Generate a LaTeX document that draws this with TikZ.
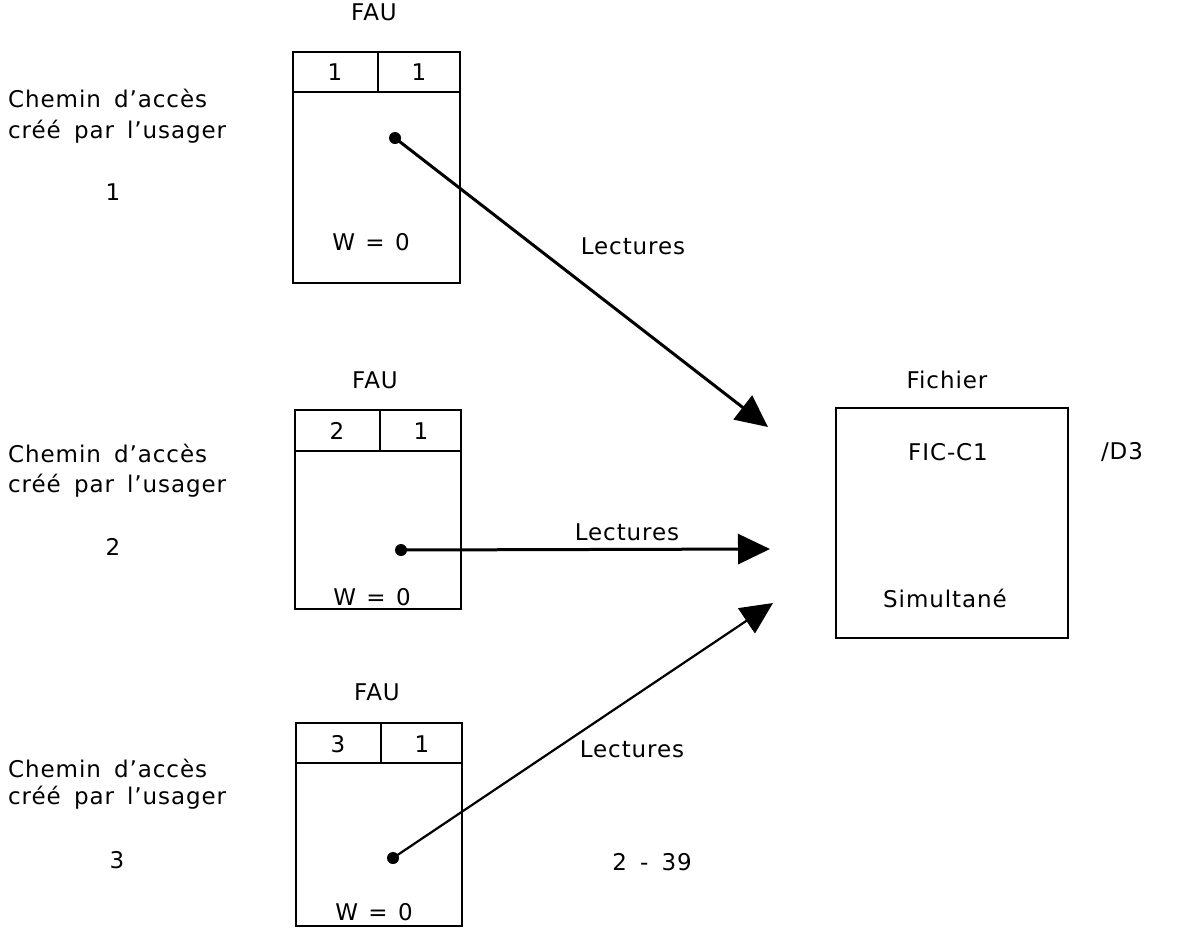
\documentclass[tikz,border=0pt]{standalone}
\usepackage{fontspec}
\setmainfont[LetterSpace=4,WordSpace=1.6]{DejaVu Sans}
\usetikzlibrary{arrows.meta}
\begin{document}
\begin{tikzpicture}[x=1pt,y=-1pt,
  txt/.style={font=\fontsize{23}{27}\selectfont, inner sep=0pt},
  lft/.style={txt, anchor=west},
  box/.style={draw, line width=2.6pt},
  sep/.style={draw, line width=1.3pt},
  dotnode/.style={circle, fill, inner sep=0pt, minimum size=12pt},
  link/.style={line width=3pt, -{Triangle[length=32pt,width=30pt]}}]
\useasboundingbox (0,0) rectangle (1180,927);
% left labels
\node[lft] (c1a) at (8,98) {Chemin d'accès};
\node[lft] (c1b) at (8,132) {créé par l'usager};
\node[txt] (n1) at (113,192) {1};
\node[lft] (c2a) at (8,453) {Chemin d'accès};
\node[lft] (c2b) at (8,486) {créé par l'usager};
\node[txt] (n2) at (113,547) {2};
\node[lft] (c3a) at (8,768) {Chemin d'accès};
\node[lft] (c3b) at (8,798) {créé par l'usager};
\node[txt] (n3) at (117,860) {3};
% FAU 1
\node[txt] (fau1) at (374,12) {FAU};
\draw[box] (293,52) rectangle (460,283);
\draw[box] (293,92) -- (460,92);
\draw[sep] (378,52) -- (378,92);
\node[txt] (h11) at (335,72) {1};
\node[txt] (h12) at (419,72) {1};
\node[txt] (w1) at (371,242) {W\hspace{0.45em}=\hspace{0.45em}0};
\node[dotnode] (d1) at (395,138) {};
% FAU 2
\node[txt] (fau2) at (375,380) {FAU};
\draw[box] (295,410) rectangle (461,609);
\draw[box] (295,451) -- (461,451);
\draw[sep] (380,410) -- (380,451);
\node[txt] (h21) at (337,431) {2};
\node[txt] (h22) at (421,431) {1};
\node[txt] (w2) at (372,597) {W\hspace{0.45em}=\hspace{0.45em}0};
\node[dotnode] (d2) at (401,550) {};
% FAU 3
\node[txt] (fau3) at (377,692) {FAU};
\draw[box] (296,723) rectangle (462,926);
\draw[box] (296,763) -- (462,763);
\draw[sep] (381,723) -- (381,763);
\node[txt] (h31) at (338,744) {3};
\node[txt] (h32) at (422,744) {1};
\node[txt] (w3) at (374,912) {W\hspace{0.45em}=\hspace{0.45em}0};
\node[dotnode] (d3) at (393,858) {};
% Fichier
\node[txt] (fich) at (947,380) {Fichier};
\draw[box] (836,408) rectangle (1068,638);
\node[txt] (fic) at (948,452) {FIC-C1};
\node[txt] (sim) at (945,598) {Simultané};
\node[txt] (d3lab) at (1122,452) {/D3};
% arrows
\coordinate (t1) at (768,427);
\coordinate (t2) at (770,549);
\coordinate (t3) at (773,603);
\draw[link] (d1.center) -- (t1);
\draw[link] (d2.center) -- (t2);
\draw[link, line width=2.2pt] (d3.center) -- (t3);
\node[txt] (l1) at (633,246) {Lectures};
\node[txt] (l2) at (627,532) {Lectures};
\node[txt] (l3) at (632,749) {Lectures};
\node[txt] (pg) at (652,862) {2 - 39};
\end{tikzpicture}
\end{document}
